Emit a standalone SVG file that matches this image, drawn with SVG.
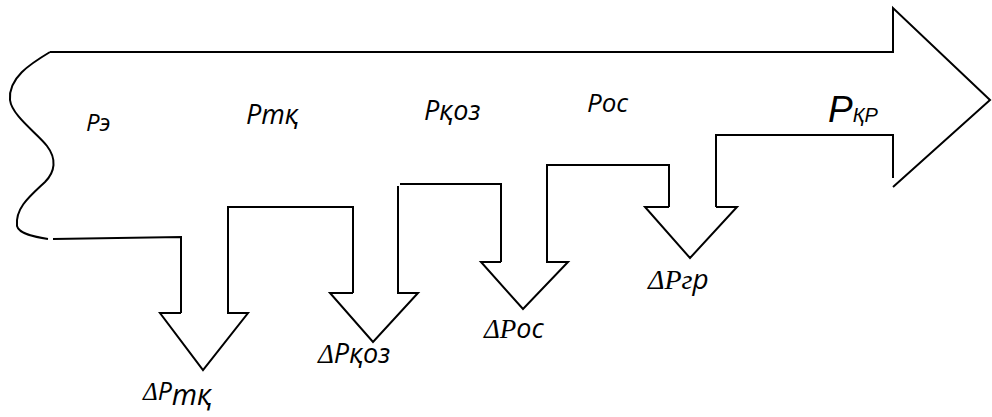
<svg xmlns="http://www.w3.org/2000/svg" width="992" height="417" viewBox="0 0 992 417">
<style>
.ln{fill:none;stroke:#000;stroke-width:2;stroke-linejoin:miter}
.t{font-family:"Open Sans","Noto Sans","DejaVu Sans",sans-serif;font-style:italic;fill:#000}
.s{font-family:"Liberation Serif","Times New Roman",serif;font-style:italic}
.a{font-family:"Liberation Sans",Arial,sans-serif;font-style:italic;fill:#000}
</style>
<rect width="992" height="417" fill="#fff"/>
<g id="connectors">
<path class="ln" d="M50,52 C30,64 8,78 10,100 C12,116 38,134 47,146 C57,159 55,172 45,182 C30,196 15,208 17,226 C19,234 35,237 48,239"/>
<path class="ln" d="M50,52 H893 V8 L990,100 L893,187"/>
<path class="ln" d="M893,178 V135 H716 V207"/>
<path class="ln" d="M53,239 L181,237 V313"/>
</g>
<g id="arrow-dPtk">
<path class="ln" d="M181,313 H160 L203,370 L248,313 H228 V207 H353 V293"/>
</g>
<g id="arrow-dPkoz">
<path class="ln" d="M353,293 H330 L373,342 L418,293 H398 V186"/>
<path class="ln" d="M400,184 H501 V262"/>
</g>
<g id="arrow-dPos">
<path class="ln" d="M501,262 H481 L523,309 L568,262 H547 V165 H669 V207"/>
</g>
<g id="arrow-dPgr">
<path class="ln" d="M669,207 H645 L690,258 L737,207 H716"/>
</g>
<g id="labels">
<text class="t" x="86" y="131" font-size="24">Pэ</text>
<text class="t" x="246" y="124" font-size="27">Pтқ</text>
<text class="t" x="424" y="120" font-size="27">Pқоз</text>
<text class="t" x="587" y="112" font-size="26">Pос</text>
<text class="a" x="828" y="122" font-size="37">P<tspan font-size="20">ҚР</tspan></text>
<text class="t" x="143" y="400" font-size="25"><tspan class="s">Δ</tspan>P<tspan font-size="29" dy="5">тқ</tspan></text>
<text class="t" x="318" y="363" font-size="27"><tspan class="s">Δ</tspan>Pқоз</text>
<text class="t" x="484" y="338" font-size="27"><tspan class="s">ΔP</tspan>ос</text>
<text class="t" x="648" y="289" font-size="28"><tspan class="s">ΔPг</tspan>р</text>
</g>
</svg>
